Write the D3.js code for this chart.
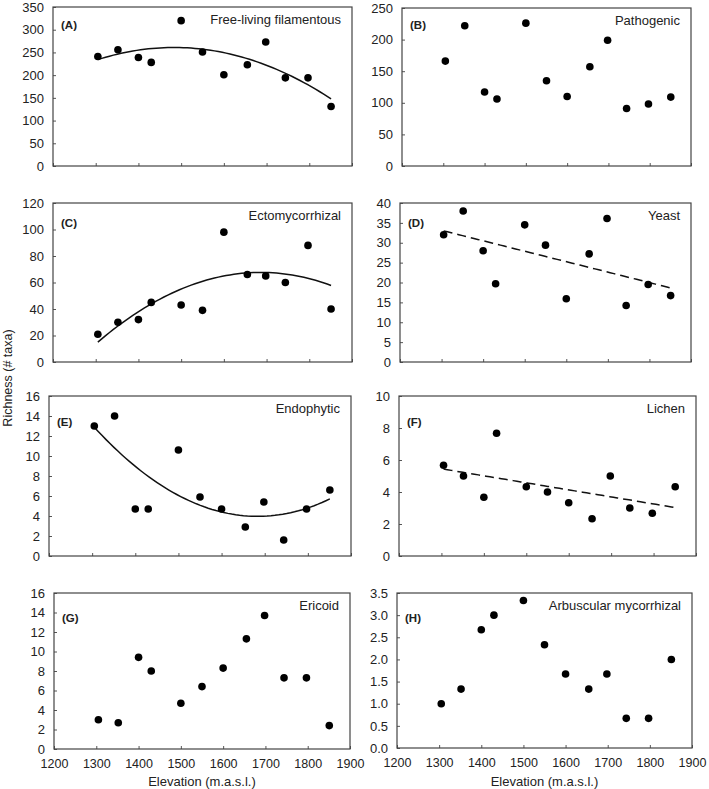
<!DOCTYPE html>
<html><head><meta charset="utf-8">
<script src="https://cdn.jsdelivr.net/npm/d3@7"></script>
<style>
body{margin:0;background:#fff;}
text{font-family:Arial,"Liberation Sans",sans-serif;fill:#222;}
</style></head>
<body><svg id="c" width="709" height="789"></svg>
<script>
// ---- data ----
const elevation = [1305,1352,1400,1430,1500,1550,1600,1655,1698,1744,1797,1851];
const freeLiving = [241,256,239,228,320,251,201,223,273,194,194,131];
const pathogenic = [166,222,117,106,226,135,110,157,199,91,98,109];
const ectomycorrhizal = [21,30,32,45,43,39,98,66,65,60,88,40];
const yeast = [32,38,28,19.7,34.5,29.4,15.9,27.2,36.1,14.2,19.5,16.7];
const endophytic = [13,14,4.7,4.7,10.6,5.9,4.7,2.9,5.4,1.6,4.7,6.6];
const lichen = [5.67,5,3.67,7.67,4.33,4,3.33,2.33,5,3,2.67,4.33];
const ericoid = [3,2.7,9.4,8,4.7,6.4,8.3,11.3,13.7,7.3,7.3,2.4];
const arbuscular = [1,1.33,2.67,3,3.33,2.33,1.67,1.33,1.67,0.67,0.67,2];

const xTicks = [1200,1300,1400,1500,1600,1700,1800,1900];
const panelLetters = ["(A)","(B)","(C)","(D)","(E)","(F)","(G)","(H)"];
const panelTitles = ["Free-living filamentous","Pathogenic","Ectomycorrhizal","Yeast","Endophytic","Lichen","Ericoid","Arbuscular mycorrhizal"];
const panelValues = [freeLiving,pathogenic,ectomycorrhizal,yeast,endophytic,lichen,ericoid,arbuscular];
const yMax = [350,250,120,40,16,10,16,3.5];
const yStep = [50,50,20,5,2,2,2,0.5];
const trendType = ["quad",null,"quad","linear","quad","linear",null,null];

// ---- layout ----
const boxes = [
  {l:53,r:352,t:7,b:166,ld:22},{l:402,r:691,t:8,b:166,ld:21},
  {l:53,r:352,t:203,b:362,ld:24},{l:400,r:691,t:203,b:362,ld:24},
  {l:49,r:351,t:396,b:556,ld:30},{l:399,r:696,t:396,b:556,ld:30},
  {l:54,r:350,t:593,b:749,ld:29},{l:397,r:692,t:593,b:748,ld:29}
];

const svg = d3.select("#c");

function fitPoly(xs, ys, deg){
  const mx = d3.mean(xs);
  const n = deg+1;
  const A = Array.from({length:n},()=>Array(n+1).fill(0));
  xs.forEach((x,i)=>{
    const u = x-mx;
    for(let r=0;r<n;r++){
      for(let c=0;c<n;c++) A[r][c]+=Math.pow(u,r+c);
      A[r][n]+=ys[i]*Math.pow(u,r);
    }
  });
  for(let i=0;i<n;i++){
    let p=i; for(let k=i+1;k<n;k++) if(Math.abs(A[k][i])>Math.abs(A[p][i])) p=k;
    [A[i],A[p]]=[A[p],A[i]];
    for(let k=0;k<n;k++){ if(k===i) continue; const f=A[k][i]/A[i][i]; for(let c=i;c<=n;c++) A[k][c]-=f*A[i][c]; }
  }
  const coef = A.map((row,i)=>row[n]/row[i]);
  return x=>{const u=x-mx; return coef.reduce((s,c,i)=>s+c*Math.pow(u,i),0);};
}

panelValues.forEach((vals,i)=>{
  const b = boxes[i];
  const x = d3.scaleLinear().domain([1200,1900]).range([b.l,b.r]);
  const y = d3.scaleLinear().domain([0,yMax[i]]).range([b.b,b.t]);
  const g = svg.append("g");
  const yTicks = d3.range(0, yMax[i]+yStep[i]/2, yStep[i]);
  const fmt = yStep[i] < 1 ? d3.format(".1f") : d3.format("d");

  // y axis ticks and labels
  const yAx = d3.axisLeft(y).tickValues(yTicks).tickFormat(fmt).tickSizeInner(-3).tickSizeOuter(0).tickPadding(9);
  const ya = g.append("g").attr("transform",`translate(${b.l},0)`).call(yAx);
  ya.select(".domain").remove();
  ya.selectAll("line").attr("stroke","#555");
  ya.selectAll("text").style("font-size","13px").attr("fill","#222");

  // x axis
  const showLab = i>=6;
  const xAx = d3.axisBottom(x).tickValues(xTicks).tickFormat(showLab? d3.format("d") : "").tickSizeInner(-3).tickSizeOuter(0).tickPadding(10);
  const xa = g.append("g").attr("transform",`translate(0,${b.b})`).call(xAx);
  xa.select(".domain").remove();
  xa.selectAll("line").attr("stroke","#555");
  xa.selectAll("text").style("font-size","12.5px").attr("fill","#222");

  // frame
  g.append("rect").attr("x",b.l).attr("y",b.t).attr("width",b.r-b.l).attr("height",b.b-b.t)
    .attr("fill","none").attr("stroke","#444").attr("stroke-width",1.2);

  // trend
  if(trendType[i]){
    const f = fitPoly(elevation, vals, trendType[i]==="quad"?2:1);
    const xs = d3.range(elevation[0], elevation[elevation.length-1]+0.1, (elevation[elevation.length-1]-elevation[0])/60);
    g.append("path").datum(xs)
      .attr("d", d3.line().x(d=>x(d)).y(d=>y(f(d))))
      .attr("fill","none").attr("stroke","#111").attr("stroke-width",1.5)
      .attr("stroke-dasharray", trendType[i]==="linear" ? "9,5" : null);
  }

  // points
  g.selectAll("circle").data(vals).join("circle")
    .attr("cx",(d,j)=>x(elevation[j])).attr("cy",d=>y(d)).attr("r",3.8).attr("fill","#000");

  // labels
  g.append("text").attr("x",b.l+8).attr("y",b.t+b.ld).text(panelLetters[i])
    .style("font-size","11.5px").style("font-weight","bold");
  g.append("text").attr("x",b.r-11).attr("y",b.t+17).attr("text-anchor","end").text(panelTitles[i])
    .style("font-size","13px");

  if(showLab){
    g.append("text").attr("x",(b.l+b.r)/2).attr("y",786).attr("text-anchor","middle")
      .text("Elevation (m.a.s.l.)").style("font-size","13px");
  }
});

svg.append("text").attr("transform","translate(12,378) rotate(-90)").attr("text-anchor","middle")
  .text("Richness (# taxa)").style("font-size","12.5px");
</script></body></html>
